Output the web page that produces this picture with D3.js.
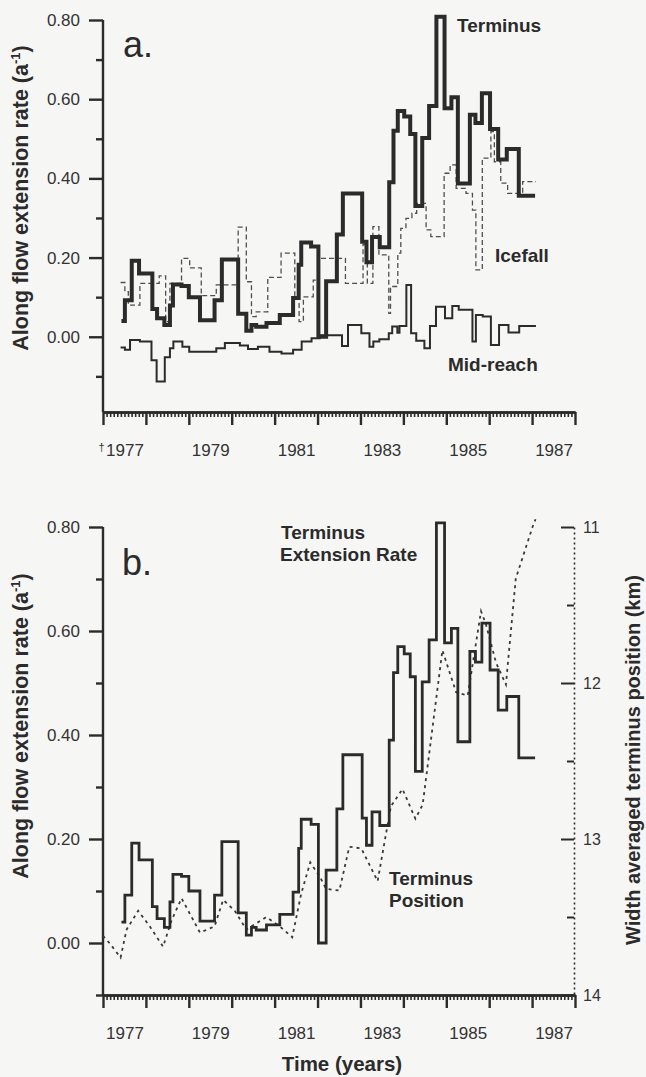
<!DOCTYPE html>
<html>
<head>
<meta charset="utf-8">
<script src="https://cdn.jsdelivr.net/npm/d3@7"></script>
<style>
  body { margin: 0; background: #f6f7f5; }
  svg { display: block; }
  text { font-family: "Liberation Sans", Arial, sans-serif; fill: #2b2b2b; }
  .axis path, .axis line { stroke: #2b2b2b; stroke-width: 2.4; }
  .axis text { font-size: 17px; fill: #333; }
  .lbl { font-weight: bold; font-size: 19px; }
  .title { font-weight: bold; font-size: 20.5px; }
</style>
</head>
<body>
<div id="chart"></div>
<script>
// ---- data ----
// Terminus extension rate (a^-1), step series: value holds from year[i] to year[i+1]
const termYears = [1977.43,1977.51,1977.67,1977.84,1978.15,1978.26,1978.43,1978.56,1978.63,1978.83,
  1979.00,1979.26,1979.60,1979.77,1980.15,1980.34,1980.46,1980.57,1980.81,1981.12,
  1981.43,1981.56,1981.62,1981.85,1982.02,1982.20,1982.45,1982.59,1983.04,1983.14,
  1983.27,1983.45,1983.67,1983.77,1983.87,1984.02,1984.16,1984.28,1984.44,1984.60,
  1984.77,1984.96,1985.12,1985.27,1985.55,1985.68,1985.83,1986.02,1986.21,1986.41,1986.69];
const termRate = [0.040,0.092,0.192,0.160,0.070,0.047,0.030,0.079,0.132,0.128,
  0.100,0.042,0.092,0.195,0.058,0.015,0.030,0.025,0.035,0.055,
  0.098,0.182,0.238,0.228,0.000,0.140,0.258,0.362,0.240,0.188,
  0.252,0.226,0.390,0.520,0.570,0.556,0.512,0.330,0.502,0.583,
  0.808,0.577,0.605,0.387,0.561,0.540,0.615,0.525,0.448,0.474,0.356];
const termEnd = 1987.07;

// Icefall extension rate
const iceYears = [1977.41,1977.51,1977.59,1977.86,1978.31,1978.46,1978.56,1978.83,1979.02,1979.29,
  1979.64,1980.15,1980.34,1980.46,1980.57,1980.84,1981.15,1981.47,1981.57,1981.67,
  1981.90,1982.01,1982.65,1983.06,1983.16,1983.29,1983.43,1983.66,1983.70,1983.87,
  1983.94,1984.06,1984.20,1984.31,1984.53,1984.64,1984.95,1985.09,1985.23,1985.46,
  1985.61,1985.69,1985.84,1986.04,1986.12,1986.27,1986.43,1986.78];
const iceRate = [0.137,0.114,0.080,0.135,0.154,0.038,0.135,0.198,0.174,0.104,
  0.131,0.277,0.139,0.051,0.063,0.150,0.211,0.101,0.038,0.101,
  0.143,0.198,0.135,0.233,0.135,0.278,0.207,0.059,0.127,0.211,
  0.274,0.299,0.312,0.337,0.270,0.253,0.413,0.434,0.375,0.362,
  0.320,0.169,0.451,0.518,0.442,0.388,0.362,0.392];
const iceEnd = 1987.09;

// Mid-reach extension rate
const midYears = [1977.41,1977.51,1977.63,1977.86,1978.13,1978.25,1978.44,1978.56,1978.64,1978.85,
  1979.01,1979.64,1979.84,1980.19,1980.38,1980.61,1980.88,1981.16,1981.43,1981.63,
  1981.86,1982.05,1982.57,1982.71,1983.02,1983.21,1983.30,1983.44,1983.66,1983.74,
  1983.86,1983.91,1984.07,1984.18,1984.30,1984.49,1984.62,1984.76,1984.97,1985.14,
  1985.29,1985.61,1985.69,1985.85,1986.04,1986.23,1986.45,1986.70];
const midRate = [-0.027,-0.033,-0.008,-0.012,-0.059,-0.113,-0.052,-0.029,-0.012,-0.025,
  -0.038,-0.029,-0.016,-0.022,-0.031,-0.025,-0.038,-0.042,-0.033,-0.012,
  -0.004,0.004,-0.023,0.030,0.009,-0.025,-0.012,-0.006,0.009,0.026,
  0.010,0.027,0.131,0.009,-0.010,-0.029,0.027,0.076,0.047,0.078,
  0.068,-0.012,0.055,0.051,-0.021,0.030,0.011,0.027];
const midEnd = 1987.09;

// Width averaged terminus position (km)
const posYears = [1977.00,1977.16,1977.41,1977.55,1977.82,1978.09,1978.40,1978.60,1978.83,1979.26,
  1979.60,1979.80,1980.07,1980.34,1980.81,1981.12,1981.41,1981.62,1981.83,1982.05,
  1982.20,1982.51,1982.74,1983.02,1983.40,1983.71,1983.98,1984.28,1984.45,1984.91,
  1985.23,1985.50,1985.81,1985.92,1986.16,1986.39,1986.62,1987.01,1987.08];
const posKm = [13.62,13.67,13.76,13.58,13.46,13.56,13.69,13.52,13.38,13.60,
  13.56,13.39,13.46,13.58,13.50,13.56,13.63,13.35,13.15,13.24,
  13.32,13.33,13.05,13.06,13.27,12.79,12.68,12.87,12.78,11.79,
  12.06,12.08,11.54,11.62,11.87,12.01,11.33,11.00,10.95];

const yearLabels = [1977,1979,1981,1983,1985,1987];
const rateTicks = [0.0,0.2,0.4,0.6,0.8];
const rateMinor = [-0.1,0.1,0.3,0.5,0.7];
const kmTicks = [11,12,13,14];
const kmMinor = [11.5,12.5,13.5];

// ---- layout ----
const W = 646, H = 1077;
const svg = d3.select("#chart").append("svg").attr("width", W).attr("height", H);

const x = d3.scaleLinear().domain([1977, 1988]).range([103, 575]);
const yA = d3.scaleLinear().domain([-0.19, 0.8]).range([412, 20]);
const yB = d3.scaleLinear().domain([-0.1, 0.8]).range([995, 527]);
const km = d3.scaleLinear().domain([11, 14]).range([527, 995]);

function stepPts(years, vals, end) {
  const p = years.map((t, i) => [t, vals[i]]);
  p.push([end, vals[vals.length - 1]]);
  return p;
}

function drawXAxis(yPos) {
  const months = d3.range(1977, 1988, 1/12).filter(d => Math.abs(d - Math.round(d)) > 0.01);
  svg.append("g").attr("class", "axis").attr("transform", `translate(0,${yPos})`)
    .call(d3.axisBottom(x).tickValues(months).tickSize(5).tickSizeOuter(0).tickFormat(""))
    .selectAll("line").style("stroke-width", 1.6);
  svg.append("g").attr("class", "axis").attr("transform", `translate(0,${yPos})`)
    .call(d3.axisBottom(x).tickValues(d3.range(1977, 1989)).tickSize(13).tickSizeOuter(0).tickFormat(""));
  const lab = svg.append("g").attr("class", "axis").attr("transform", `translate(0,${yPos})`)
    .call(d3.axisBottom(x).tickValues(yearLabels.map(d => d + 0.5)).tickSize(0).tickPadding(32)
      .tickFormat(d => String(Math.floor(d))));
  lab.select(".domain").remove();
  return lab;
}

function drawYAxis(scale, top) {
  const g = svg.append("g").attr("class", "axis").attr("transform", "translate(103,0)");
  g.call(d3.axisLeft(scale).tickValues(rateTicks).tickSize(14).tickSizeOuter(0).tickPadding(9)
    .tickFormat(d3.format(".2f")));
  g.select(".domain").attr("d", `M0,${scale.range()[0]}V${top}`);
  const m = svg.append("g").attr("class", "axis").attr("transform", "translate(103,0)");
  m.call(d3.axisLeft(scale).tickValues(rateMinor).tickSize(7).tickSizeOuter(0).tickFormat(""));
  m.select(".domain").remove();
}

function yTitle(cx, cy) {
  const t = svg.append("text").attr("class", "title").style("font-size", "21.5px")
    .attr("transform", `translate(${cx},${cy}) rotate(-90)`).attr("text-anchor", "middle");
  t.append("tspan").text("Along flow extension rate (a");
  t.append("tspan").attr("dy", -8).style("font-size", "13px").text("-1");
  t.append("tspan").attr("dy", 8).text(")");
}

// ================= panel a =================
const lineA = d3.line().x(d => x(d[0])).y(d => yA(d[1])).curve(d3.curveStepAfter);

drawYAxis(yA, yA(0.8));
const labA = drawXAxis(412);
// small mark before the first year label
labA.append("text").attr("x", x(1977.5) - 23).attr("y", 31).attr("dy", "0.71em")
  .attr("text-anchor", "middle").style("font-size", "11px").text("†");

svg.append("path").datum(stepPts(iceYears, iceRate, iceEnd))
  .attr("d", lineA).attr("fill", "none").attr("stroke", "#4f4f4f")
  .attr("stroke-width", 1.3).attr("stroke-dasharray", "5,3");
svg.append("path").datum(stepPts(midYears, midRate, midEnd))
  .attr("d", lineA).attr("fill", "none").attr("stroke", "#2b2b2b").attr("stroke-width", 2);
svg.append("path").datum(stepPts(termYears, termRate, termEnd))
  .attr("d", lineA).attr("fill", "none").attr("stroke", "#2b2b2b")
  .attr("stroke-width", 4).attr("stroke-linejoin", "miter");

svg.append("text").attr("x", 123).attr("y", 57).style("font-size", "36px").text("a.");
svg.append("text").attr("class", "lbl").attr("x", 457).attr("y", 32).text("Terminus");
svg.append("text").attr("class", "lbl").attr("x", 495).attr("y", 262).text("Icefall");
svg.append("text").attr("class", "lbl").attr("x", 448).attr("y", 371).text("Mid-reach");
yTitle(28, 198);

// ================= panel b =================
const lineB = d3.line().x(d => x(d[0])).y(d => yB(d[1])).curve(d3.curveStepAfter);
const posLine = d3.line().x((d, i) => x(d)).y((d, i) => km(posKm[i]));

drawYAxis(yB, yB(0.8));
drawXAxis(995);

// right axis (terminus position, km)
const r = svg.append("g").attr("class", "axis").attr("transform", "translate(574,0)");
r.call(d3.axisRight(km).tickValues(kmTicks).tickSizeInner(-13).tickSizeOuter(0).tickPadding(9)
  .tickFormat(d3.format("d")));
r.select(".domain").style("stroke-width", 1.6).style("stroke-dasharray", "2,3");
r.selectAll("line").style("stroke-width", 2);
r.selectAll("text").style("font-size", "16px");
const rm = svg.append("g").attr("class", "axis").attr("transform", "translate(574,0)");
rm.call(d3.axisRight(km).tickValues(kmMinor).tickSizeInner(-7).tickSizeOuter(0).tickFormat(""));
rm.select(".domain").remove();
rm.selectAll("line").style("stroke-width", 2);

svg.append("path").datum(posYears)
  .attr("d", posLine).attr("fill", "none").attr("stroke", "#3a3a3a")
  .attr("stroke-width", 1.8).attr("stroke-dasharray", "3,4");
svg.append("path").datum(stepPts(termYears, termRate, termEnd))
  .attr("d", lineB).attr("fill", "none").attr("stroke", "#2b2b2b").attr("stroke-width", 2.8);

svg.append("text").attr("x", 122).attr("y", 575).style("font-size", "36px").text("b.");
svg.append("text").attr("class", "lbl").attr("x", 281).attr("y", 539).text("Terminus");
svg.append("text").attr("class", "lbl").attr("x", 280).attr("y", 561).text("Extension Rate");
svg.append("text").attr("class", "lbl").attr("x", 389).attr("y", 885).text("Terminus");
svg.append("text").attr("class", "lbl").attr("x", 389).attr("y", 907).text("Position");
yTitle(28, 726);

svg.append("text").attr("class", "title").style("font-size", "20px")
  .attr("transform", "translate(640,760) rotate(-90)").attr("text-anchor", "middle")
  .text("Width averaged terminus position (km)");
svg.append("text").attr("class", "title").attr("x", 342).attr("y", 1071)
  .attr("text-anchor", "middle").text("Time (years)");
</script>
</body>
</html>
